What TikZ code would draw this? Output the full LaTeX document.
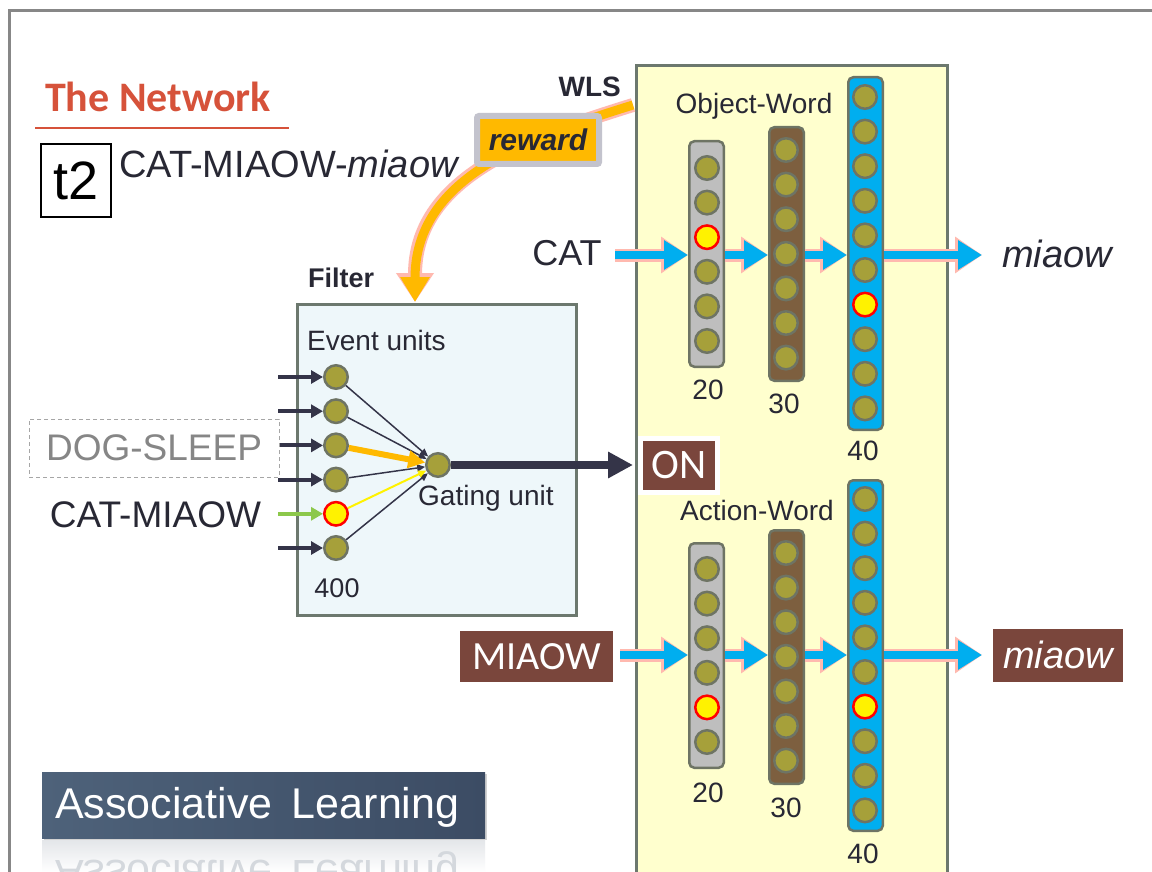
\documentclass[tikz,border=0pt]{standalone}
\usepackage{fontspec}
\setmainfont{Liberation Sans}
\newfontfamily\calibfont{Carlito}
\usetikzlibrary{arrows.meta,positioning,shadows}

\definecolor{titlered}{RGB}{214,82,58}
\definecolor{framegray}{RGB}{135,135,135}
\definecolor{textdark}{RGB}{40,40,52}
\definecolor{unitolive}{RGB}{166,160,58}
\definecolor{unitrim}{RGB}{110,116,100}
\definecolor{colgray}{RGB}{190,190,190}
\definecolor{colbrown}{RGB}{125,95,63}
\definecolor{colblue}{RGB}{0,174,239}
\definecolor{wlsyellow}{RGB}{255,255,206}
\definecolor{filterblue}{RGB}{238,247,250}
\definecolor{boxrim}{RGB}{108,120,110}
\definecolor{wordbrown}{RGB}{122,70,60}
\definecolor{navy}{RGB}{52,52,72}
\definecolor{cuegreen}{RGB}{140,200,75}
\definecolor{rwdorange}{RGB}{255,185,0}
\definecolor{glowpink}{RGB}{255,185,175}
\definecolor{rwdrim}{RGB}{195,195,205}
\definecolor{slate}{RGB}{60,76,100}
\definecolor{slatelight}{RGB}{78,98,122}

\newcommand{\fsz}[1]{\fontsize{#1}{#1}\selectfont}

\begin{document}
\begin{tikzpicture}[x=1pt, y=-1pt,
    unit/.style={circle, fill=unitolive, draw=unitrim, line width=2.5pt, minimum size=23.5pt, inner sep=0pt},
    uniton/.style={unit, fill=yellow, draw=red},
    layer/.style={rounded corners=5pt, draw=unitrim, line width=2.5pt, minimum width=34.5pt, inner sep=0pt},
    panel/.style={draw=boxrim, line width=3pt, inner sep=0pt},
    lbl/.style={text=textdark, inner sep=0pt},
    wordbox/.style={fill=wordbrown, text=white, inner sep=0pt},
    flow/.style={draw=colblue, line width=8pt, -{Triangle[length=24pt,width=28pt]},
      preaction={draw=glowpink, line width=13pt, -{Triangle[length=27pt,width=35pt]}}},
    feed/.style={draw=navy, line width=4pt, -{Triangle[length=12pt,width=13pt]}},
    link/.style={draw=navy, line width=1.5pt, -{Triangle[length=8pt,width=7pt]}},
  ]
  \useasboundingbox (0,0) rectangle (1152,872);
  \fill[white] (0,0) rectangle (1152,872);

  % slide frame
  \draw[framegray, line width=3pt] (1160,11) -- (9,11) -- (9,880);

  % title
  \node[anchor=base west, inner sep=0pt, text=titlered, font=\calibfont\bfseries\fsz{42}] (title) at (45,112) {The Network};
  \draw[titlered, line width=2.5pt] (35,128) -- (289,128);
  \node[draw=black, line width=2pt, minimum width=70pt, minimum height=73pt, inner sep=0pt, font=\fsz{54}] (tbox) at (76,180.5) {t2};
  \node[lbl, anchor=base west, font=\fsz{38}] (trial) at (119,178) {CAT-MIAOW-{\itshape miaow}};

  % WLS panel
  \node[panel, fill=wlsyellow, anchor=north west, minimum width=311pt, minimum height=830pt] (wls) at (634.5,64.5) {};
  \node[lbl, anchor=base east, font=\bfseries\fsz{28}] (wlslbl) at (621,97) {WLS};

  % reward signal
  \coordinate (rwdsrc) at (633,105);
  \coordinate (rwdtip) at (415,302);
  \draw[glowpink, line width=14pt, -{Triangle[length=29pt,width=36pt]}] (rwdsrc) .. controls (520,140) and (415,180) .. (rwdtip);
  \draw[rwdorange, line width=9pt, -{Triangle[length=25pt,width=28pt]}] (rwdsrc) .. controls (520,140) and (415,180) .. (rwdtip);
  \node[fill=rwdorange, draw=rwdrim, line width=6pt, rounded corners=2pt, minimum width=122pt, minimum height=48pt,
        inner sep=0pt, text=textdark, font=\bfseries\itshape\fsz{30}] (reward) at (538,140) {reward};

  % Filter
  \node[lbl, anchor=base west, font=\bfseries\fsz{27}] (filterlbl) at (308,287) {Filter};
  \node[panel, fill=filterblue, minimum width=279pt, minimum height=311pt] (filter) at (437,460) {};
  \node[lbl, anchor=base west, font=\fsz{28}] (evlbl) at (307,350) {Event units};
  \node[lbl, anchor=base, font=\fsz{27}] (evnum) at (337,597) {400};

  % event units and gating unit
  \foreach \i in {1,...,6} {
    \ifnum\i=5
      \node[uniton] (ev\i) at (336,{377+34.2*(\i-1)}) {};
    \else
      \node[unit] (ev\i) at (336,{377+34.2*(\i-1)}) {};
    \fi
    \coordinate (in\i) at (278,{377+34.2*(\i-1)});
  }
  \node[unit] (gate) at (438,465) {};
  \node[lbl, anchor=base west, font=\fsz{28}] (gatelbl) at (418,505) {Gating unit};

  % inputs
  \node[draw=gray!70, dash pattern=on 4pt off 3pt, line width=1pt, minimum width=250pt, minimum height=58pt,
        inner sep=0pt, text=gray!95, font=\fsz{37}] (dog) at (154,448) {DOG-SLEEP};
  \node[lbl, font=\fsz{37}] (catmiaow) at (155.5,515) {CAT-MIAOW};
  \foreach \i in {1,2,4,6} \draw[feed] (in\i) -- (ev\i);
  \draw[feed] (dog.east |- ev3) -- (ev3);
  \draw[feed, draw=cuegreen] (in5) -- (ev5);

  % links to gating unit
  \foreach \i in {1,2,4,6} \draw[link] (ev\i) -- (gate);
  \draw[link, draw=rwdorange, line width=6pt, -{Triangle[length=17pt,width=17pt]}] (ev3) -- (gate);
  \draw[link, draw=yellow, line width=2pt] (ev5) -- (gate);

  % ON signal
  \node[wordbox, draw=white, line width=5pt, minimum width=77pt, minimum height=54pt, font=\calibfont\fsz{42}] (on) at (679,465) {ON};
  \draw[navy, line width=8pt, shorten >=5pt, -{Triangle[length=25pt,width=25pt]}] (gate) -- (on);

  % Object-Word
  \node[lbl, anchor=base, font=\fsz{28}] (objlbl) at (754,114) {Object-Word};
  \node[lbl, font=\fsz{36}] (cat) at (567,253) {CAT};
  \coordinate (oin) at (615,255);
  \coordinate (oout) at (982,255);
  \node[lbl, anchor=base west, font=\itshape\fsz{38}] (omiaow) at (1002,267) {miaow};
  \node[layer, fill=colgray, minimum height=225.5pt] (oA) at (706.5,254) {};
  \node[layer, fill=colbrown, minimum height=253.5pt] (oB) at (786.5,254) {};
  \node[layer, fill=colblue, minimum height=352.5pt] (oC) at (865.5,253.5) {};
  \draw[flow] (oin) -- (oA.west |- oin);
  \draw[flow] (oA.east |- oin) -- (oB.west |- oin);
  \draw[flow] (oB.east |- oin) -- (oC.west |- oin);
  \draw[flow] (oC.east |- oin) -- (oout);
  \foreach \i in {1,...,6} {
    \ifnum\i=3 \node[uniton] (oA\i) at (707,{168+34.6*(\i-1)}) {};
    \else \node[unit] (oA\i) at (707,{168+34.6*(\i-1)}) {}; \fi
  }
  \foreach \i in {1,...,7} \node[unit] (oB\i) at (786,{150+34.6*(\i-1)}) {};
  \foreach \i in {1,...,10} {
    \ifnum\i=7 \node[uniton] (oC\i) at (865,{97+34.6*(\i-1)}) {};
    \else \node[unit] (oC\i) at (865,{97+34.6*(\i-1)}) {}; \fi
  }
  \node[lbl, anchor=base, font=\fsz{28}] (oAn) at (708,399) {20};
  \node[lbl, anchor=base, font=\fsz{28}] (oBn) at (784,413) {30};
  \node[lbl, anchor=base, font=\fsz{28}] (oCn) at (863,460) {40};

  % Action-Word
  \node[lbl, anchor=base, font=\fsz{28}] (actlbl) at (757,520) {Action-Word};
  \node[wordbox, minimum width=153pt, minimum height=51pt, font=\calibfont\fsz{40}] (miaowin) at (536.5,656.5) {MIAOW};
  \coordinate (ain) at (620,655);
  \coordinate (aout) at (982,655);
  \node[wordbox, minimum width=130pt, minimum height=53pt, font=\itshape\fsz{38}] (miaowout) at (1058,655) {miaow};
  \node[layer, fill=colgray, minimum height=224.5pt] (aA) at (706.5,655.5) {};
  \node[layer, fill=colbrown, minimum height=253.5pt] (aB) at (786.5,657) {};
  \node[layer, fill=colblue, minimum height=350.5pt] (aC) at (865.5,655.5) {};
  \draw[flow] (ain) -- (aA.west |- ain);
  \draw[flow] (aA.east |- ain) -- (aB.west |- ain);
  \draw[flow] (aB.east |- ain) -- (aC.west |- ain);
  \draw[flow] (aC.east |- ain) -- (aout);
  \foreach \i in {1,...,6} {
    \ifnum\i=5 \node[uniton] (aA\i) at (707,{569+34.6*(\i-1)}) {};
    \else \node[unit] (aA\i) at (707,{569+34.6*(\i-1)}) {}; \fi
  }
  \foreach \i in {1,...,7} \node[unit] (aB\i) at (786,{553+34.6*(\i-1)}) {};
  \foreach \i in {1,...,10} {
    \ifnum\i=7 \node[uniton] (aC\i) at (865,{499+34.6*(\i-1)}) {};
    \else \node[unit] (aC\i) at (865,{499+34.6*(\i-1)}) {}; \fi
  }
  \node[lbl, anchor=base, font=\fsz{28}] (aAn) at (708,802) {20};
  \node[lbl, anchor=base, font=\fsz{28}] (aBn) at (786,817) {30};
  \node[lbl, anchor=base, font=\fsz{28}] (aCn) at (863,863) {40};

  % Associative Learning banner
  \shade[top color=slate!14, bottom color=white] (42,840) rectangle (485,872);
  \begin{scope}
    \clip (42,840) rectangle (485,872);
    \node[anchor=base west, inner sep=0pt, yscale=-1, transform shape, text=slate!22, font=\fsz{43}] (assocref) at (55,860) {Associative\hspace{0.45em}Learning};
  \end{scope}
  \node[left color=slatelight, right color=slate, minimum width=443pt, minimum height=66pt, inner sep=0pt,
        drop shadow={shadow xshift=2pt, shadow yshift=-2pt, opacity=0.35}] (assoc) at (263.5,805) {};
  \node[anchor=base west, inner sep=0pt, text=white, font=\fsz{43}] (assoclbl) at (55,818) {Associative\hspace{0.45em}Learning};
\end{tikzpicture}
\end{document}
